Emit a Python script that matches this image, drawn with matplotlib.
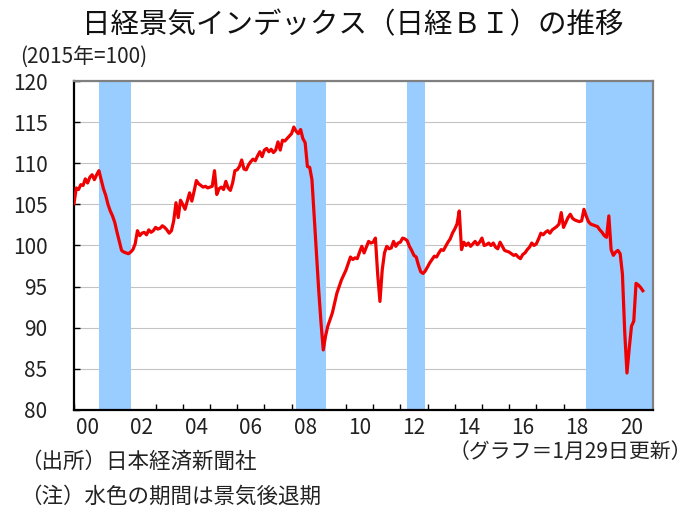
import matplotlib
matplotlib.use("Agg")
import matplotlib.pyplot as plt
import numpy as np

plt.rcParams['font.family'] = ['Noto Sans CJK JP', 'DejaVu Sans']

# Nikkei BI, monthly, 2015 = 100
bi_2000 = [105.1, 107.0, 106.8, 107.4, 107.3, 108.1, 107.6, 108.3, 108.6, 108.0, 108.6, 109.1]
bi_2001 = [108.0, 106.9, 106.1, 105.0, 104.2, 103.6, 102.8, 101.6, 100.5, 99.4, 99.2, 99.1]
bi_2002 = [99.0, 99.2, 99.5, 100.2, 101.8, 101.2, 101.5, 101.6, 101.3, 101.9, 101.6, 101.8]
bi_2003 = [102.2, 102.0, 102.1, 102.4, 102.2, 101.9, 101.5, 101.8, 103.0, 105.2, 103.4, 105.5]
bi_2004 = [105.0, 104.4, 105.4, 106.4, 105.4, 106.6, 107.9, 107.5, 107.3, 107.1, 107.2, 107.0]
bi_2005 = [107.1, 107.2, 109.1, 106.2, 106.9, 107.1, 106.8, 107.8, 107.0, 106.7, 107.6, 109.1]
bi_2006 = [109.2, 109.6, 110.4, 109.3, 109.2, 109.8, 110.2, 110.5, 110.3, 110.9, 111.4, 110.8]
bi_2007 = [111.6, 111.8, 111.4, 111.7, 111.3, 111.6, 112.6, 111.6, 112.8, 112.7, 113.0, 113.3]
bi_2008 = [113.6, 114.4, 113.9, 113.6, 114.1, 113.0, 112.5, 109.6, 109.5, 108.0, 103.5, 99.1]
bi_2009 = [94.5, 90.6, 87.3, 89.0, 90.2, 91.0, 91.8, 93.0, 94.2, 95.0, 95.8, 96.4]
bi_2010 = [97.0, 97.8, 98.6, 98.3, 98.5, 98.4, 99.2, 99.9, 99.1, 99.8, 100.5, 100.3]
bi_2011 = [100.4, 100.9, 96.5, 93.2, 97.0, 99.1, 99.9, 99.6, 99.7, 100.5, 99.9, 100.3]
bi_2012 = [100.4, 100.9, 100.8, 100.6, 99.9, 99.4, 98.8, 98.6, 97.6, 96.8, 96.6, 96.9]
bi_2013 = [97.4, 97.9, 98.3, 98.7, 98.6, 99.1, 99.5, 99.4, 99.9, 100.4, 100.8, 101.5]
bi_2014 = [102.0, 102.6, 104.2, 99.5, 100.4, 100.0, 100.3, 99.9, 100.2, 100.5, 100.1, 100.4]
bi_2015 = [100.9, 100.0, 100.1, 100.3, 100.0, 100.3, 99.8, 99.6, 100.4, 99.9, 99.4, 99.3]
bi_2016 = [99.2, 99.0, 98.8, 98.9, 98.6, 98.4, 98.9, 99.1, 99.5, 99.8, 100.3, 100.0]
bi_2017 = [100.2, 100.8, 101.5, 101.3, 101.6, 101.8, 101.5, 101.9, 102.1, 102.3, 102.6, 104.0]
bi_2018 = [102.2, 102.8, 103.4, 103.8, 103.3, 103.1, 103.0, 102.9, 103.0, 104.4, 103.6, 102.9]
bi_2019 = [102.6, 102.5, 102.4, 102.3, 101.9, 101.6, 101.2, 101.0, 103.6, 99.5, 98.8, 99.2]
bi_2020 = [99.4, 99.0, 96.5, 89.5, 84.5, 87.5, 90.2, 90.8, 95.4, 95.2, 94.9, 94.5]

start_year = 2000

# recession periods (first month, last month); None = still ongoing
recessions = [((2000, 12), (2002, 1)),
              ((2008, 3), (2009, 3)),
              ((2012, 4), (2012, 11)),
              ((2018, 11), None)]

year_labels = ["00", "02", "04", "06", "08", "10", "12", "14", "16", "18", "20"]
y_ticks = [80, 85, 90, 95, 100, 105, 110, 115, 120]

values = np.concatenate([bi_2000, bi_2001, bi_2002, bi_2003, bi_2004, bi_2005,
                         bi_2006, bi_2007, bi_2008, bi_2009, bi_2010, bi_2011,
                         bi_2012, bi_2013, bi_2014, bi_2015, bi_2016, bi_2017,
                         bi_2018, bi_2019, bi_2020])
t = start_year + np.arange(len(values)) / 12

x_min, x_max = 2000, 2021.29

fig = plt.figure(figsize=(6.96, 5.22), dpi=100)
ax = fig.add_axes([0.1063, 0.2146, 0.8319, 0.6302])

ax.set_axisbelow(True)
ax.yaxis.grid(True, color="#c4c4c4", linewidth=0.8)

for (s, e) in recessions:
    x0 = s[0] + (s[1] - 1) / 12
    x1 = x_max if e is None else e[0] + e[1] / 12
    ax.axvspan(x0, x1, color="#99ccff", linewidth=0, zorder=1)

ax.plot(t, values, color="#f00000", linewidth=2.3, zorder=3,
        solid_joinstyle="round")

ax.set_xlim(x_min, x_max)
ax.set_ylim(80, 120)
ax.set_yticks(y_ticks)

ax.set_xticks(np.arange(2000, 2022))
ax.set_xticklabels([])
ax.set_xticks([2000.5 + 2 * i for i in range(len(year_labels))], minor=True)
ax.set_xticklabels(year_labels, minor=True)

ax.tick_params(axis="x", which="major", direction="in", length=4, width=1,
               color="black")
ax.tick_params(axis="x", which="minor", length=0, pad=5, labelsize=15,
               labelcolor="#222222")
ax.tick_params(axis="y", direction="in", length=4, width=1, color="black",
               pad=19, labelsize=15, labelcolor="#222222")

for side in ["left", "bottom"]:
    ax.spines[side].set_color("black")
    ax.spines[side].set_linewidth(1.6)
for side in ["top", "right"]:
    ax.spines[side].set_color("#808080")
    ax.spines[side].set_linewidth(1.6)

fig.text(353 / 696, 1 - 25 / 522, "日経景気インデックス（日経ＢＩ）の推移",
         ha="center", va="center", fontsize=20.5, color="#111111")
fig.text(20 / 696, 1 - 57 / 522, "(2015年=100)", ha="left", va="center",
         fontsize=15, color="#222222")
fig.text(692 / 696, 1 - 452 / 522, "（グラフ＝1月29日更新）", ha="right",
         va="center", fontsize=15, color="#222222")
fig.text(20 / 696, 1 - 462 / 522, "（出所）日本経済新聞社", ha="left",
         va="center", fontsize=15.5, color="#222222")
fig.text(20 / 696, 1 - 497 / 522, "（注）水色の期間は景気後退期", ha="left",
         va="center", fontsize=15.5, color="#222222")

fig.savefig("out.png", dpi=100)
